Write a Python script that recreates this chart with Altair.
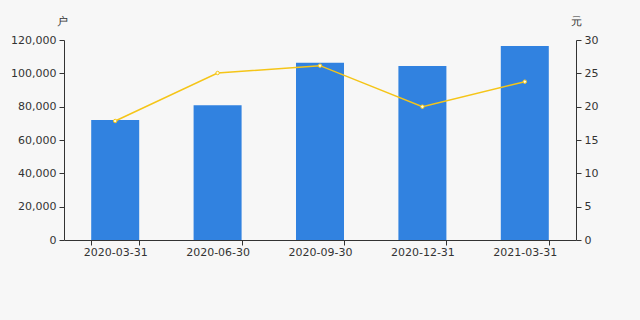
import altair as alt
import pandas as pd

dates = ["2020-03-31", "2020-06-30", "2020-09-30", "2020-12-31", "2021-03-31"]
holders = [72000, 80800, 106400, 104400, 116400]
price = [17.85, 25.05, 26.15, 20.0, 23.75]

df = pd.DataFrame({"date": dates, "holders": holders, "price": price})

FONT = "DejaVu Sans"
LABEL = "#333333"

x = alt.X("date:N", sort=dates, title=None,
          scale=alt.Scale(type="band", paddingInner=0.53, paddingOuter=0.265),
          axis=alt.Axis(labelAngle=0, tickBand="extent", domainColor="#333333",
                        tickColor="#333333", tickSize=5, labelColor=LABEL,
                        labelFont=FONT, labelFontSize=11, labelPadding=1))

bars = alt.Chart(df).mark_bar(color="#3182e0", size=48).encode(
    x=x,
    y=alt.Y("holders:Q", scale=alt.Scale(domain=[0, 120000]),
            axis=alt.Axis(title="户", titleAngle=0, titleX=-2, titleY=-14,
                          titleFont=FONT, titleFontSize=11, titleFontWeight="normal",
                          titleColor=LABEL, titleAlign="center",
                          values=[0, 20000, 40000, 60000, 80000, 100000, 120000],
                          format=",.0f", grid=False, domainColor="#333333",
                          tickColor="#333333", tickSize=5, labelColor=LABEL,
                          labelFont=FONT, labelFontSize=11, labelPadding=3)),
)

yr = alt.Y("price:Q", scale=alt.Scale(domain=[0, 30]),
           axis=alt.Axis(title="元", orient="right", titleAngle=0, titleX=0, titleY=-14,
                         titleFont=FONT, titleFontSize=11, titleFontWeight="normal",
                         titleColor=LABEL, titleAlign="center",
                         values=[0, 5, 10, 15, 20, 25, 30],
                         grid=False, domainColor="#333333",
                         tickColor="#333333", tickSize=5, labelColor=LABEL,
                         labelFont=FONT, labelFontSize=11, labelPadding=3))

line = alt.Chart(df).mark_line(color="#f5c518", strokeWidth=1.5).encode(x=x, y=yr)
pts = alt.Chart(df).mark_point(filled=True, fill="#fffbe0", stroke="#f5c518",
                               strokeWidth=1, size=12, opacity=1).encode(x=x, y=yr)

chart = alt.layer(bars, line + pts).resolve_scale(y="independent").properties(
    width=512, height=200,
    autosize=alt.AutoSizeParams(type="none"),
    padding={"left": 64, "top": 40, "right": 64, "bottom": 80},
    background="#f7f7f7",
).configure_view(stroke=None)

chart.save("out.html", embed_options={"renderer": "svg", "actions": False})
